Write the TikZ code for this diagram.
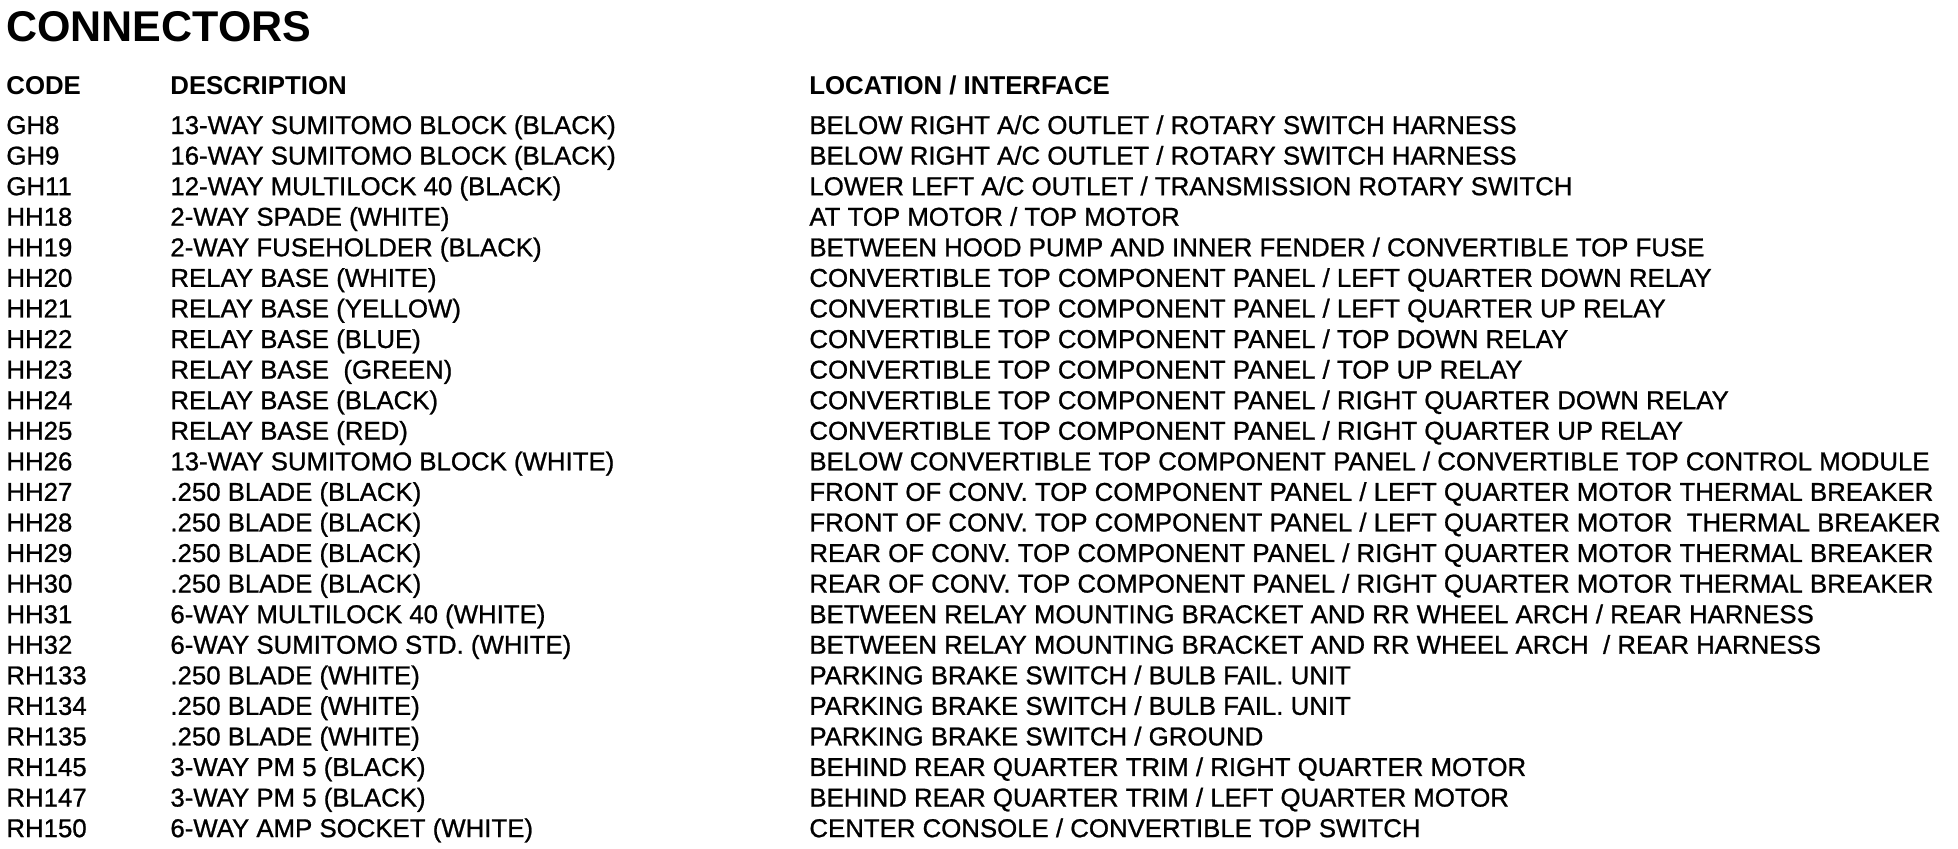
\documentclass[tikz,border=0pt]{standalone}
\usepackage{fontspec}
\setmainfont{Liberation Sans}
\newfontfamily\medfont[FakeBold=0.9]{Liberation Sans}
\usetikzlibrary{positioning}

\begin{document}
\begin{tikzpicture}[
    x=0.5pt, y=-0.5pt, % one unit is one pixel of the sheet, y going down
    ]
% -------------------------------------------------
\tikzset{
  cell/.style={anchor=base west, inner sep=0pt, font=\fontsize{12.9}{14}\selectfont\medfont},
  head/.style={cell, font=\fontsize{12.9}{14}\selectfont\bfseries},
  ttl/.style={anchor=base west, inner sep=0pt, font=\fontsize{21.5}{24}\selectfont\bfseries}
}
% -------------------------------------------------
\useasboundingbox (0,0) rectangle (1958,848);

% Placing the headings
\node [ttl] (title) at (6,41) {CONNECTORS};
\node [head] (hcode) at (6,94) {CODE};
\node [head] (hdesc) at (170,94) {DESCRIPTION};
\node [head] (hloc) at (809,94) {LOCATION / INTERFACE};

% Placing the rows
\foreach \code/\desc/\loc [count=\i] in {
  GH8/{13-WAY SUMITOMO BLOCK (BLACK)}/{BELOW RIGHT A/C OUTLET / ROTARY SWITCH HARNESS},
  GH9/{16-WAY SUMITOMO BLOCK (BLACK)}/{BELOW RIGHT A/C OUTLET / ROTARY SWITCH HARNESS},
  GH11/{12-WAY MULTILOCK 40 (BLACK)}/{LOWER LEFT A/C OUTLET / TRANSMISSION ROTARY SWITCH},
  HH18/{2-WAY SPADE (WHITE)}/{AT TOP MOTOR / TOP MOTOR},
  HH19/{2-WAY FUSEHOLDER (BLACK)}/{BETWEEN HOOD PUMP AND INNER FENDER / CONVERTIBLE TOP FUSE},
  HH20/{RELAY BASE (WHITE)}/{CONVERTIBLE TOP COMPONENT PANEL / LEFT QUARTER DOWN RELAY},
  HH21/{RELAY BASE (YELLOW)}/{CONVERTIBLE TOP COMPONENT PANEL / LEFT QUARTER UP RELAY},
  HH22/{RELAY BASE (BLUE)}/{CONVERTIBLE TOP COMPONENT PANEL / TOP DOWN RELAY},
  HH23/{RELAY BASE\ \ (GREEN)}/{CONVERTIBLE TOP COMPONENT PANEL / TOP UP RELAY},
  HH24/{RELAY BASE (BLACK)}/{CONVERTIBLE TOP COMPONENT PANEL / RIGHT QUARTER DOWN RELAY},
  HH25/{RELAY BASE (RED)}/{CONVERTIBLE TOP COMPONENT PANEL / RIGHT QUARTER UP RELAY},
  HH26/{13-WAY SUMITOMO BLOCK (WHITE)}/{BELOW CONVERTIBLE TOP COMPONENT PANEL / CONVERTIBLE TOP CONTROL MODULE},
  HH27/{.250 BLADE (BLACK)}/{FRONT OF CONV. TOP COMPONENT PANEL / LEFT QUARTER MOTOR THERMAL BREAKER},
  HH28/{.250 BLADE (BLACK)}/{FRONT OF CONV. TOP COMPONENT PANEL / LEFT QUARTER MOTOR\ \ THERMAL BREAKER},
  HH29/{.250 BLADE (BLACK)}/{REAR OF CONV. TOP COMPONENT PANEL / RIGHT QUARTER MOTOR THERMAL BREAKER},
  HH30/{.250 BLADE (BLACK)}/{REAR OF CONV. TOP COMPONENT PANEL / RIGHT QUARTER MOTOR THERMAL BREAKER},
  HH31/{6-WAY MULTILOCK 40 (WHITE)}/{BETWEEN RELAY MOUNTING BRACKET AND RR WHEEL ARCH / REAR HARNESS},
  HH32/{6-WAY SUMITOMO STD. (WHITE)}/{BETWEEN RELAY MOUNTING BRACKET AND RR WHEEL ARCH\ \ / REAR HARNESS},
  RH133/{.250 BLADE (WHITE)}/{PARKING BRAKE SWITCH / BULB FAIL. UNIT},
  RH134/{.250 BLADE (WHITE)}/{PARKING BRAKE SWITCH / BULB FAIL. UNIT},
  RH135/{.250 BLADE (WHITE)}/{PARKING BRAKE SWITCH / GROUND},
  RH145/{3-WAY PM 5 (BLACK)}/{BEHIND REAR QUARTER TRIM / RIGHT QUARTER MOTOR},
  RH147/{3-WAY PM 5 (BLACK)}/{BEHIND REAR QUARTER TRIM / LEFT QUARTER MOTOR},
  RH150/{6-WAY AMP SOCKET (WHITE)}/{CENTER CONSOLE / CONVERTIBLE TOP SWITCH}%
}{
  \node [cell] (code\i) at (6,{134+(\i-1)*30.57}) {\code};
  \node [cell] (desc\i) at (170,{134+(\i-1)*30.57}) {\desc};
  \node [cell] (loc\i) at (809,{134+(\i-1)*30.57}) {\loc};
}

\end{tikzpicture}
\end{document}
